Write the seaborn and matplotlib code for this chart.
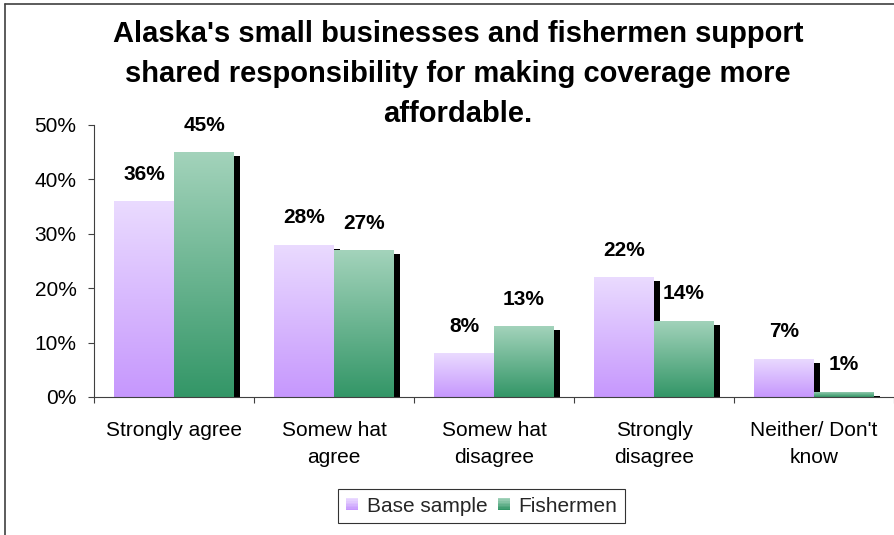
import numpy as np
import pandas as pd
import matplotlib
matplotlib.use("Agg")
import matplotlib.pyplot as plt
import matplotlib.transforms as mtransforms
from matplotlib.patches import Rectangle, Patch
from matplotlib.legend_handler import HandlerBase
from matplotlib.lines import Line2D
from matplotlib.colors import to_rgb
import seaborn as sns

categories = ["Strongly agree", "Somew hat\nagree", "Somew hat\ndisagree",
              "Strongly\ndisagree", "Neither/ Don't\nknow"]
groups = ["Base sample", "Fishermen"]
base_sample = [36, 28, 8, 22, 7]
fishermen = [45, 27, 13, 14, 1]
y_ticks = [0, 10, 20, 30, 40, 50]
title_lines = ["Alaska's small businesses and fishermen support",
               "shared responsibility for making coverage more",
               "affordable."]

# gradient colours per series: (top, bottom)
grad = {
    "Base sample": ("#EADBFF", "#C697FD"),
    "Fishermen": ("#A3D3BB", "#339667"),
}

df = pd.DataFrame({
    "category": categories * 2,
    "group": [groups[0]] * len(categories) + [groups[1]] * len(categories),
    "value": base_sample + fishermen,
})

sns.set_theme(style="white")
plt.rcParams["font.family"] = ["Liberation Sans", "DejaVu Sans"]

fig = plt.figure(figsize=(8.95, 5.35), dpi=100)
ax = fig.add_axes([94 / 895, 1 - 397 / 535, 800 / 895, 272 / 535])

sns.barplot(data=df, x="category", y="value", hue="group", hue_order=groups,
            palette=[grad[g][1] for g in groups], width=0.75, saturation=1,
            ax=ax, legend=False)


def gradient(top, bottom, n=256):
    t = np.linspace(0, 1, n)[:, None]
    c0, c1 = np.array(to_rgb(top)), np.array(to_rgb(bottom))
    return (c0 * (1 - t) + c1 * t)[:, None, :]


shadow_shift = mtransforms.ScaledTranslation(6 / 100, -4 / 100, fig.dpi_scale_trans)
for container, g in zip(ax.containers, groups):
    top, bottom = grad[g]
    img = gradient(top, bottom)
    for bar, val in zip(container.patches, container.datavalues):
        x, w, h = bar.get_x(), bar.get_width(), bar.get_height()
        # drop shadow
        sh = Rectangle((x, 0), w, h, facecolor="black", edgecolor="none",
                       transform=ax.transData + shadow_shift, zorder=1)
        ax.add_patch(sh)
        bar.set_zorder(2)
        bar.set_edgecolor("none")
        im = ax.imshow(img, extent=[x, x + w, 0, h], aspect="auto",
                       origin="upper", zorder=2.5, interpolation="bilinear")
        im.set_clip_path(bar)
        ax.annotate(f"{val:.0f}%", (x + w / 2, h), xytext=(0, 19.5),
                    textcoords="offset points", ha="center", va="center",
                    fontsize=15, fontweight="bold", color="black", zorder=5)

ax.set_xlim(-0.5, len(categories) - 0.5)
ax.set_ylim(0, 50)
ax.set_yticks(y_ticks)
ax.set_yticklabels([f"{v}%" for v in y_ticks], fontsize=15)
ax.set_xticks(range(len(categories)))
ax.set_xticklabels(categories, fontsize=15, linespacing=1.55)
ax.set_xticks(np.arange(-0.5, len(categories), 1), minor=True)
ax.tick_params(axis="x", which="major", length=0, pad=17, colors="black")
ax.tick_params(axis="x", which="minor", length=4.5, width=0.8,
               color="#404040", bottom=True, direction="out")
ax.tick_params(axis="y", which="major", length=4.5, width=0.8, pad=8,
               color="#404040", left=True, direction="out", labelcolor="black")
ax.set_xlabel("")
ax.set_ylabel("")
for side in ["top", "right"]:
    ax.spines[side].set_visible(False)
for side in ["left", "bottom"]:
    ax.spines[side].set_color("#404040")
    ax.spines[side].set_linewidth(0.8)
ax.grid(False)


class GradientSquare(HandlerBase):
    def __init__(self, top, bottom, n=8):
        super().__init__()
        self.top, self.bottom, self.n = top, bottom, n

    def create_artists(self, legend, orig_handle, xdescent, ydescent,
                       width, height, fontsize, trans):
        side = min(width, height)
        x0 = -xdescent + (width - side) / 2
        y0 = -ydescent + (height - side) / 2
        cols = gradient(self.top, self.bottom, self.n)[:, 0, :]
        arts = []
        for i, c in enumerate(cols):
            yy = y0 + side - (i + 1) * side / self.n
            arts.append(Rectangle((x0, yy), side, side / self.n + 0.05,
                                  facecolor=c, edgecolor="none", transform=trans))
        return arts


handles = [Patch(label=g) for g in groups]
handler_map = {h: GradientSquare(*grad[g]) for h, g in zip(handles, groups)}
leg = fig.legend(handles=handles, handler_map=handler_map, loc="center",
                 bbox_to_anchor=(481.5 / 895, 1 - 506 / 535), ncol=2,
                 fontsize=15, frameon=True, fancybox=False, shadow=False,
                 handlelength=0.6, handleheight=0.6, handletextpad=0.4,
                 columnspacing=0.5, borderpad=0.35, borderaxespad=0)
leg.get_frame().set_edgecolor("black")
leg.get_frame().set_linewidth(0.8)

# title, one line per text so each sits on its own baseline
for i, line in enumerate(title_lines):
    fig.text(458 / 895, 1 - (42 + 40 * i) / 535, line, ha="center",
             va="baseline", fontsize=21, fontweight="bold", color="black")

# outer chart-area border (left and top edges)
fig.add_artist(Line2D([5 / 895, 5 / 895], [0, 1 - 4 / 535], color="#404040",
                      lw=1.2, transform=fig.transFigure))
fig.add_artist(Line2D([5 / 895, 1], [1 - 4 / 535, 1 - 4 / 535], color="#404040",
                      lw=1.2, transform=fig.transFigure))

fig.savefig("out.png", dpi=100)
